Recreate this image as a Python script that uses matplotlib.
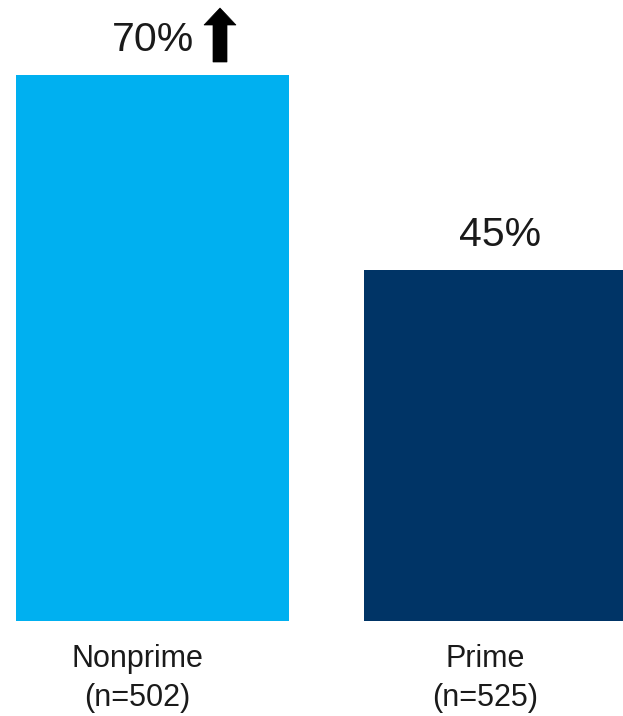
import matplotlib
matplotlib.use("Agg")
import matplotlib.pyplot as plt
from matplotlib.patches import Polygon
import matplotlib.transforms as mtransforms

categories = ["Nonprime", "Prime"]
sample_sizes = ["(n=502)", "(n=525)"]
values = [70, 45]
value_labels = ["70%", "45%"]
colors = ["#00B0F0", "#003466"]
significant = [True, False]

W, H = 623, 716
fig = plt.figure(figsize=(W / 100, H / 100), dpi=100)
plt.rcParams['font.family'] = ['Liberation Sans', 'DejaVu Sans']

# axes geometry in pixels (origin top-left)
bottom_px = 621
px_per_unit = 7.8
ax = fig.add_axes([0, (H - bottom_px) / H, 1, bottom_px / H])
spacing = 347.5
c0 = 152.5
bar_w = 273 / spacing
ax.set_xlim(-c0 / spacing, (W - c0) / spacing)
ax.set_ylim(0, bottom_px / px_per_unit)
ax.axis('off')

x = list(range(len(categories)))
ax.bar(x, values, width=bar_w, color=colors, linewidth=0)

for xi, v, lab, sig in zip(x, values, value_labels, significant):
    t = ax.annotate(lab, (xi, v), xytext=(0, 17.5), textcoords='offset points',
                    ha='center', va='baseline', fontsize=29.5, color='#1a1a1a')
    if sig:
        # arrow to the right of the label, in pixel offsets from bar top center
        off = mtransforms.offset_copy(ax.transData, fig=fig, x=0, y=0, units='dots')
        base = ax.transData.transform((xi, v))
        # pixel coords relative to bar top center (y up)
        pts = [(67.5, 67), (51.5, 50), (60.5, 50), (60.5, 13), (74.5, 13),
               (74.5, 50), (83.5, 50)]
        poly = [(base[0] + dx, base[1] + dy) for dx, dy in pts]
        inv = fig.transFigure.inverted()
        poly_fig = [inv.transform(p) for p in poly]
        fig.patches.append(Polygon(poly_fig, closed=True, facecolor='black',
                                   edgecolor='black', linewidth=0.5,
                                   transform=fig.transFigure))

for xi, cat, n in zip(x, categories, sample_sizes):
    ax.annotate(cat, (xi, 0), xytext=(-11, -33), textcoords='offset points',
                ha='center', va='baseline', fontsize=22, color='#1a1a1a',
                annotation_clip=False)
    ax.annotate(n, (xi, 0), xytext=(-11, -61), textcoords='offset points',
                ha='center', va='baseline', fontsize=22, color='#1a1a1a',
                annotation_clip=False)

fig.savefig("out.png", dpi=100)
